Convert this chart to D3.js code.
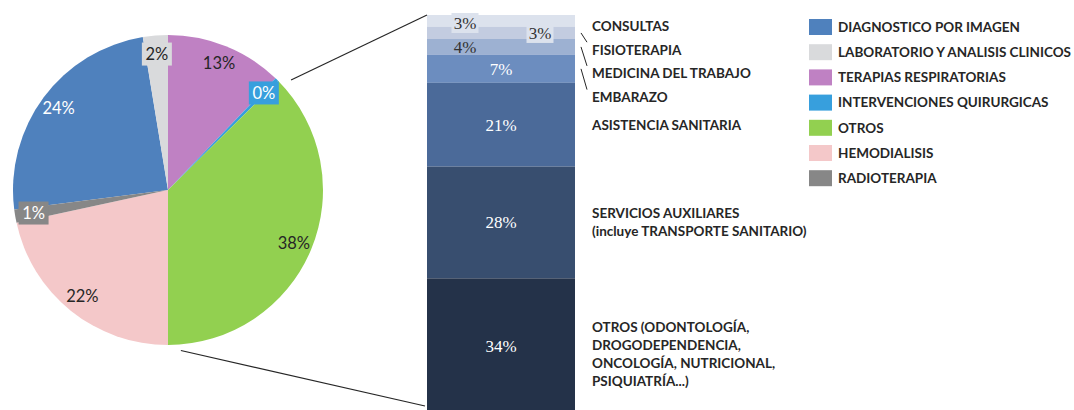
<!DOCTYPE html>
<html>
<head>
<meta charset="utf-8">
<script src="https://cdn.jsdelivr.net/npm/d3@7"></script>
<style>
  body { margin: 0; background: #fff; }
  svg { display: block; }
</style>
</head>
<body>
<div class="canvas"></div>
<script>
// pie: services (legend order)
const pieCategories = ['DIAGNOSTICO POR IMAGEN', 'LABORATORIO Y ANALISIS CLINICOS', 'TERAPIAS RESPIRATORIAS',
  'INTERVENCIONES QUIRURGICAS', 'OTROS', 'HEMODIALISIS', 'RADIOTERAPIA']
const pieValues = [24.4, 2.6, 12.2, 0.4, 37.4, 21.6, 1.4]
const pieLabels = ['24%', '2%', '13%', '0%', '38%', '22%', '1%']
const pieColors = ['#4f81bd', '#d9dadc', '#bf81c3', '#379fdd', '#92d050', '#f4c8c9', '#878787']

// bar: breakdown of "OTROS", top to bottom
const barCategories = [['CONSULTAS'], ['FISIOTERAPIA'], ['MEDICINA DEL TRABAJO'], ['EMBARAZO'],
  ['ASISTENCIA SANITARIA'], ['SERVICIOS AUXILIARES', '(incluye TRANSPORTE SANITARIO)'],
  ['OTROS (ODONTOLOGÍA,', 'DROGODEPENDENCIA,', 'ONCOLOGÍA, NUTRICIONAL,', 'PSIQUIATRÍA...)']]
const barValues = [3, 3, 4, 7, 21, 28, 34]
const barColors = ['#dce2ed', '#c3cce0', '#9db1d2', '#6c8dbf', '#4b6a99', '#384e6f', '#243249']

const width = 1074, height = 410
const svg = d3.select('.canvas').append('svg')
  .attr('width', width)
  .attr('height', height)

const ink = '#262626'
const sans = 'Lato, "Open Sans", sans-serif'
const serif = '"Liberation Serif", "DejaVu Serif", serif'

// ---- pie
const cx = 168, cy = 190, radius = 155
const total = d3.sum(pieValues)
const offset = (pieValues[0] + pieValues[1]) / total * 2 * Math.PI

const pie = d3.pie().sort(null).value(d => d)
  .startAngle(-offset).endAngle(2 * Math.PI - offset)
const arcs = pie(pieValues)
const arc = d3.arc().innerRadius(0).outerRadius(radius)
const labelArc = d3.arc().innerRadius(radius * 0.88).outerRadius(radius * 0.88)

const pieGroup = svg.append('g').attr('transform', `translate(${cx}, ${cy})`)
pieGroup.selectAll('path').data(arcs).enter().append('path')
  .attr('d', arc)
  .attr('fill', (d, i) => pieColors[i])

const boxed = [1, 3, 6]
const lightText = [0, 3, 6]
const pieText = pieGroup.selectAll('g.label').data(arcs).enter().append('g')
  .attr('class', 'label')
  .attr('transform', d => `translate(${labelArc.centroid(d)})`)
pieText.filter((d, i) => boxed.includes(i)).append('rect')
  .attr('x', -15).attr('y', -11.5).attr('width', 30).attr('height', 23)
  .attr('fill', d => pieColors[arcs.indexOf(d)])
pieText.append('text')
  .attr('text-anchor', 'middle')
  .attr('dy', '0.36em')
  .attr('font-family', sans)
  .attr('font-size', 16.5)
  .attr('fill', d => lightText.includes(arcs.indexOf(d)) ? '#fff' : ink)
  .text(d => pieLabels[arcs.indexOf(d)])

// ---- bar
const barX = 427, barW = 148
const y = d3.scaleLinear().domain([0, d3.sum(barValues)]).range([15, 414])
const cum = d3.cumsum(barValues)
const segs = barValues.map((v, i) => ({v, y0: cum[i] - v, y1: cum[i], i}))

svg.selectAll('rect.seg').data(segs).enter().append('rect')
  .attr('class', 'seg')
  .attr('x', barX).attr('width', barW)
  .attr('y', d => y(d.y0))
  .attr('height', d => y(d.y1) - y(d.y0))
  .attr('fill', d => barColors[d.i])

const mid = d => (y(d.y0) + y(d.y1)) / 2
const segLabelX = d => d.i === 1 ? barX + 113 : d.i < 3 ? barX + 38 : barX + barW / 2
const segLabelY = d => d.i === 0 ? mid(d) + 2 : mid(d)

const segLabel = svg.selectAll('g.seglabel').data(segs).enter().append('g')
  .attr('class', 'seglabel')
  .attr('transform', d => `translate(${segLabelX(d)}, ${segLabelY(d)})`)
segLabel.filter(d => d.i < 2).append('rect')
  .attr('x', -13.5).attr('y', -10).attr('width', 27).attr('height', 20)
  .attr('fill', barColors[0])
segLabel.append('text')
  .attr('text-anchor', 'middle')
  .attr('dy', '0.35em')
  .attr('font-family', serif)
  .attr('font-size', 17)
  .attr('fill', d => d.i < 3 ? '#333' : '#fff')
  .text(d => `${d.v}%`)

// category labels to the right of the bar
const textX = 592, lineH = 18
const catY = d => d.i < 4 ? 26 + d.i * 23.7 : d.i === 6 ? mid(d) + 8 : mid(d)
const cat = svg.selectAll('text.cat').data(segs).enter().append('text')
  .attr('class', 'cat')
  .attr('font-family', sans)
  .attr('font-weight', 'bold')
  .attr('font-size', 13.5)
  .attr('fill', ink)
cat.selectAll('tspan').data(d => barCategories[d.i].map((t, k, all) => ({t, k, n: all.length, d})))
  .enter().append('tspan')
  .attr('x', textX)
  .attr('y', l => catY(l.d) + (l.k - (l.n - 1) / 2) * lineH)
  .attr('dy', '0.36em')
  .text(l => l.t)

// leader lines for the thin segments
svg.selectAll('line.leader').data(segs.filter(d => d.i > 0 && d.i < 4)).enter().append('line')
  .attr('class', 'leader')
  .attr('x1', barX + barW + 6).attr('y1', d => mid(d))
  .attr('x2', barX + barW + 12).attr('y2', d => catY(d) - 7.5)
  .attr('stroke', ink).attr('stroke-width', 1)

// ---- connectors from the OTROS slice to the bar
const otros = arcs[4]
const edge = (angle, r) => [cx + r * Math.sin(angle), cy - r * Math.cos(angle)]
const p1 = edge(otros.startAngle + 0.05, radius + 10)
const p2 = edge(otros.endAngle - 0.08, radius + 6)
svg.append('line')
  .attr('x1', p1[0]).attr('y1', p1[1])
  .attr('x2', barX).attr('y2', y(0))
  .attr('stroke', ink).attr('stroke-width', 1.2)
svg.append('line')
  .attr('x1', p2[0]).attr('y1', p2[1])
  .attr('x2', barX - 2).attr('y2', y(98))
  .attr('stroke', ink).attr('stroke-width', 1.2)

// ---- legend
const legend = svg.append('g').attr('transform', 'translate(809, 19)')
const rows = legend.selectAll('g').data(pieCategories).enter().append('g')
  .attr('transform', (d, i) => `translate(0, ${i * 25.2})`)
rows.append('rect')
  .attr('width', 23).attr('height', 16)
  .attr('fill', (d, i) => pieColors[i])
rows.append('text')
  .attr('x', 29).attr('y', 8)
  .attr('dy', '0.36em')
  .attr('font-family', sans)
  .attr('font-weight', 'bold')
  .attr('font-size', 13.5)
  .attr('fill', ink)
  .text(d => d)
</script>
</body>
</html>
